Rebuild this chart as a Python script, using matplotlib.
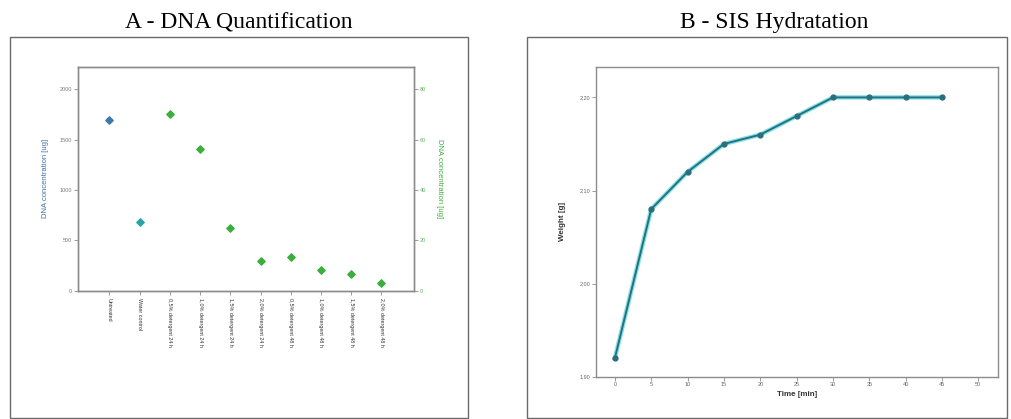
import numpy as np
from matplotlib import pyplot as plt
from matplotlib.patches import Rectangle

# panel A - DNA quantification
categories = ["Untreated", "Water control",
              "0,5% detergent 24 h", "1,0% detergent 24 h", "1,5% detergent 24 h", "2,0% detergent 24 h",
              "0,5% detergent 48 h", "1,0% detergent 48 h", "1,5% detergent 48 h", "2,0% detergent 48 h"]
controls_ng = [1700, 680]
treated_ng = [70.4, 56.4, 25.1, 12.0, 13.2, 8.4, 6.5, 3.1]
control_colors = ["#3f78ad", "#2aa3a8"]

# panel B - SIS hydratation
time_min = [0, 5, 10, 15, 20, 25, 30, 35, 40, 45]
weight_g = [1.92, 2.08, 2.12, 2.15, 2.16, 2.18, 2.20, 2.20, 2.20, 2.20]

GRID = "#8c8c8c"
TICK_TXT = "#7a7a7a"
BLUE = "#3f6fa8"
GREEN = "#3cae3c"


def style_spines(ax):
    for s in ax.spines.values():
        s.set_color(GRID)
        s.set_linewidth(1.0)


fig = plt.figure(figsize=(10.11, 4.19), dpi=100)
plt.rcParams["font.family"] = ["Liberation Sans", "DejaVu Sans"]

# outer frames
for x0, x1 in [(10, 468), (527, 1007)]:
    fig.patches.append(Rectangle((x0 / 1011, 1 / 419), (x1 - x0) / 1011, (418 - 37) / 419,
                                 transform=fig.transFigure, fill=False, edgecolor="#6a6a6a", lw=1.0))

fig.text(239 / 1011, 1 - 28 / 419, "A - DNA Quantification", ha="center", va="baseline",
         family="Liberation Serif", fontsize=17)
fig.text(774 / 1011, 1 - 28 / 419, "B - SIS Hydratation", ha="center", va="baseline",
         family="Liberation Serif", fontsize=17)

# ---- panel A
ax1 = fig.add_axes([0.0769, 0.3062, 0.3326, 0.5346])
ax2 = ax1.twinx()
x = np.arange(len(categories))
for i in range(len(controls_ng)):
    ax1.scatter(x[i], controls_ng[i], marker="D", s=14, color=control_colors[i], zorder=3)
ax2.scatter(x[2:], treated_ng, marker="D", s=14, color=GREEN, zorder=3)

ax1.set_xlim(-1.05, 10.08)
ax1.set_ylim(0, 2225)
ax2.set_ylim(0, 2225 / 25)
ax1.set_yticks([0, 500, 1000, 1500, 2000])
ax2.set_yticks([0, 20, 40, 60, 80])
ax1.set_xticks(x)
ax1.set_xticklabels(categories, rotation=-90, fontsize=3.9, color="#333333")
ax1.tick_params(axis="x", length=3, width=0.6, color=GRID, pad=2)
ax1.tick_params(axis="y", labelsize=4.0, labelcolor=TICK_TXT, length=3, width=0.6, color=GRID, pad=1)
ax2.tick_params(axis="y", labelsize=4.0, labelcolor="#5fb35f", length=3, width=0.6, color=GRID, pad=1)
ax1.set_ylabel("DNA concentration [ug]", color=BLUE, fontsize=5.5, labelpad=8)
ax2.set_ylabel("DNA concentration [ug]", color=GREEN, fontsize=5.5, labelpad=7, rotation=-90, va="bottom")
style_spines(ax1)
style_spines(ax2)

# ---- panel B
ax3 = fig.add_axes([0.5895, 0.101, 0.3976, 0.7398])
ax3.plot(time_min, weight_g, color="#7fe3ec", lw=3.2, zorder=2)
ax3.plot(time_min, weight_g, color="#2c6f7c", lw=1.4, marker="o", ms=3.5, zorder=3)
ax3.set_xlim(-2.6, 52.7)
ax3.set_ylim(1.90, 2.233)
ax3.set_xticks(np.arange(0, 55, 5))
ax3.set_yticks([1.90, 2.00, 2.10, 2.20])
ax3.set_yticklabels(["1,90", "2,00", "2,10", "2,20"])
ax3.tick_params(labelsize=4.0, labelcolor="#666666", length=3, width=0.6, color=GRID, pad=1)
ax3.set_xlabel("Time [min]", fontsize=5.8, fontweight="bold", color="#333333", labelpad=3)
ax3.set_ylabel("Weight [g]", fontsize=5.8, fontweight="bold", color="#333333", labelpad=10)
style_spines(ax3)

fig.savefig("out.png", dpi=100)
